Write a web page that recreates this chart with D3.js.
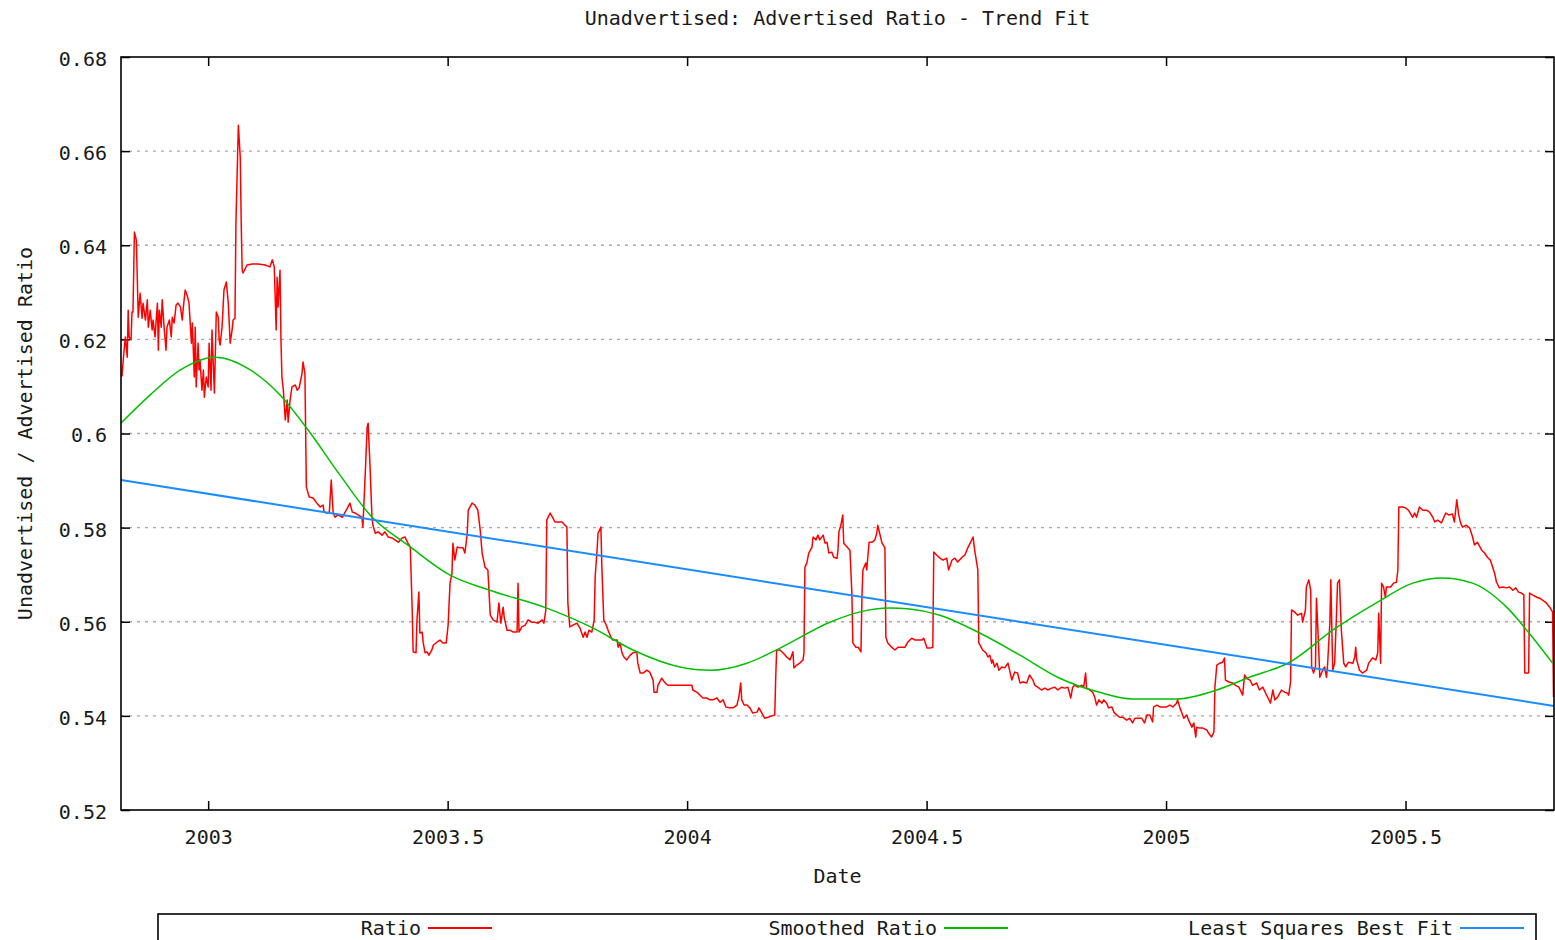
<!DOCTYPE html>
<html>
<head>
<meta charset="utf-8">
<script src="https://cdn.jsdelivr.net/npm/d3@7"></script>
<style>
    body { margin: 0; background: #fff; }
    svg text { font-family: "DejaVu Sans Mono", "Liberation Mono", monospace; fill: #1a1a1a; }
</style>
</head>
<body>
<svg id="trend-svg"></svg>
<script>
// values: [decimal year, ratio]
const ratio_points = [
    [2002.820,0.6121],[2002.823,0.6160],[2002.827,0.6205],[2002.831,0.6162],[2002.833,0.6262],[2002.835,0.6205],
    [2002.839,0.6199],[2002.841,0.6258],[2002.843,0.6258],[2002.846,0.6428],[2002.850,0.6411],[2002.852,0.6330],
    [2002.854,0.6247],[2002.858,0.6298],[2002.862,0.6245],[2002.864,0.6277],[2002.869,0.6241],[2002.873,0.6284],
    [2002.875,0.6226],[2002.879,0.6262],[2002.883,0.6220],[2002.885,0.6241],[2002.889,0.6205],[2002.894,0.6277],
    [2002.896,0.6177],[2002.898,0.6262],[2002.902,0.6226],[2002.904,0.6284],[2002.908,0.6226],[2002.912,0.6177],
    [2002.914,0.6226],[2002.919,0.6241],[2002.923,0.6205],[2002.925,0.6247],[2002.929,0.6235],[2002.933,0.6273],
    [2002.937,0.6277],[2002.942,0.6269],[2002.946,0.6241],[2002.948,0.6267],[2002.952,0.6305],[2002.956,0.6294],
    [2002.960,0.6277],[2002.965,0.6192],[2002.967,0.6235],[2002.971,0.6120],[2002.973,0.6226],[2002.975,0.6099],
    [2002.979,0.6192],[2002.981,0.6135],[2002.983,0.6156],[2002.987,0.6092],[2002.990,0.6135],[2002.992,0.6077],
    [2002.996,0.6120],[2003.000,0.6099],[2003.002,0.6192],[2003.006,0.6092],[2003.008,0.6220],[2003.013,0.6086],
    [2003.017,0.6258],[2003.021,0.6247],[2003.023,0.6199],[2003.025,0.6188],[2003.029,0.6226],[2003.033,0.6305],
    [2003.038,0.6322],[2003.042,0.6277],[2003.046,0.6192],[2003.050,0.6220],[2003.052,0.6241],[2003.056,0.6245],
    [2003.058,0.6447],[2003.063,0.6655],[2003.067,0.6587],[2003.069,0.6447],[2003.071,0.6347],[2003.073,0.6341],
    [2003.081,0.6358],[2003.092,0.6360],[2003.104,0.6360],[2003.119,0.6358],[2003.129,0.6354],[2003.134,0.6369],
    [2003.138,0.6354],[2003.142,0.6220],[2003.144,0.6332],[2003.146,0.6269],[2003.150,0.6347],[2003.152,0.6199],
    [2003.154,0.6120],[2003.157,0.6092],[2003.161,0.6029],[2003.165,0.6071],[2003.167,0.6024],[2003.171,0.6071],
    [2003.175,0.6099],[2003.182,0.6103],[2003.186,0.6092],[2003.190,0.6097],[2003.196,0.6128],[2003.198,0.6152],
    [2003.202,0.6128],[2003.205,0.5886],[2003.211,0.5865],[2003.219,0.5863],[2003.227,0.5852],[2003.234,0.5844],
    [2003.240,0.5848],[2003.242,0.5833],[2003.248,0.5831],[2003.253,0.5833],[2003.257,0.5901],[2003.261,0.5831],
    [2003.265,0.5822],[2003.271,0.5827],[2003.280,0.5822],[2003.286,0.5833],[2003.292,0.5844],[2003.296,0.5852],
    [2003.301,0.5833],[2003.307,0.5831],[2003.313,0.5827],[2003.321,0.5822],[2003.323,0.5801],[2003.328,0.5916],
    [2003.332,0.6014],[2003.334,0.6022],[2003.338,0.5929],[2003.342,0.5822],[2003.344,0.5805],[2003.349,0.5788],
    [2003.355,0.5791],[2003.363,0.5784],[2003.369,0.5791],[2003.376,0.5780],[2003.384,0.5778],[2003.390,0.5774],
    [2003.397,0.5769],[2003.405,0.5778],[2003.411,0.5780],[2003.417,0.5767],[2003.422,0.5759],[2003.426,0.5625],
    [2003.428,0.5536],[2003.434,0.5534],[2003.436,0.5604],[2003.440,0.5663],[2003.442,0.5576],[2003.447,0.5578],
    [2003.449,0.5555],[2003.453,0.5534],[2003.457,0.5536],[2003.461,0.5529],[2003.467,0.5540],[2003.470,0.5550],
    [2003.478,0.5557],[2003.484,0.5561],[2003.490,0.5555],[2003.497,0.5555],[2003.501,0.5593],[2003.505,0.5682],
    [2003.509,0.5703],[2003.511,0.5767],[2003.515,0.5731],[2003.520,0.5759],[2003.526,0.5757],[2003.532,0.5757],
    [2003.536,0.5746],[2003.541,0.5788],[2003.543,0.5837],[2003.551,0.5852],[2003.557,0.5848],[2003.563,0.5837],
    [2003.568,0.5795],[2003.572,0.5746],[2003.578,0.5716],[2003.584,0.5710],[2003.589,0.5614],[2003.595,0.5604],
    [2003.603,0.5599],[2003.607,0.5640],[2003.611,0.5597],[2003.616,0.5631],[2003.618,0.5610],[2003.624,0.5582],
    [2003.630,0.5582],[2003.637,0.5578],[2003.645,0.5578],[2003.647,0.5682],[2003.649,0.5578],[2003.655,0.5589],
    [2003.662,0.5593],[2003.668,0.5604],[2003.676,0.5599],[2003.682,0.5599],[2003.689,0.5597],[2003.697,0.5604],
    [2003.701,0.5597],[2003.705,0.5625],[2003.707,0.5816],[2003.714,0.5831],[2003.720,0.5820],[2003.724,0.5812],
    [2003.730,0.5812],[2003.739,0.5812],[2003.745,0.5805],[2003.749,0.5801],[2003.751,0.5640],[2003.755,0.5589],
    [2003.762,0.5593],[2003.770,0.5597],[2003.776,0.5587],[2003.783,0.5567],[2003.787,0.5578],[2003.791,0.5567],
    [2003.795,0.5582],[2003.801,0.5578],[2003.806,0.5604],[2003.808,0.5695],[2003.812,0.5752],[2003.814,0.5788],
    [2003.820,0.5801],[2003.822,0.5716],[2003.826,0.5604],[2003.831,0.5593],[2003.835,0.5582],[2003.841,0.5567],
    [2003.845,0.5561],[2003.854,0.5561],[2003.856,0.5546],[2003.860,0.5555],[2003.864,0.5534],[2003.868,0.5525],
    [2003.874,0.5519],[2003.881,0.5529],[2003.887,0.5534],[2003.895,0.5536],[2003.897,0.5512],[2003.902,0.5491],
    [2003.908,0.5491],[2003.916,0.5497],[2003.922,0.5493],[2003.929,0.5476],[2003.931,0.5450],[2003.937,0.5450],
    [2003.939,0.5465],[2003.947,0.5480],[2003.954,0.5470],[2003.960,0.5465],[2003.970,0.5465],[2003.981,0.5465],
    [2003.991,0.5465],[2004.002,0.5465],[2004.010,0.5465],[2004.012,0.5455],[2004.021,0.5450],[2004.027,0.5444],
    [2004.033,0.5438],[2004.041,0.5438],[2004.048,0.5434],[2004.054,0.5434],[2004.062,0.5438],[2004.069,0.5429],
    [2004.075,0.5434],[2004.081,0.5419],[2004.089,0.5417],[2004.096,0.5417],[2004.104,0.5423],[2004.108,0.5440],
    [2004.112,0.5470],[2004.114,0.5434],[2004.119,0.5423],[2004.125,0.5423],[2004.131,0.5417],[2004.137,0.5406],
    [2004.146,0.5408],[2004.150,0.5417],[2004.156,0.5406],[2004.162,0.5395],[2004.169,0.5397],[2004.177,0.5400],
    [2004.183,0.5402],[2004.185,0.5482],[2004.187,0.5540],[2004.194,0.5540],[2004.200,0.5534],[2004.208,0.5525],
    [2004.215,0.5519],[2004.221,0.5536],[2004.223,0.5502],[2004.229,0.5508],[2004.235,0.5512],[2004.242,0.5519],
    [2004.244,0.5534],[2004.246,0.5716],[2004.250,0.5725],[2004.254,0.5746],[2004.261,0.5759],[2004.263,0.5780],
    [2004.269,0.5774],[2004.273,0.5784],[2004.277,0.5774],[2004.284,0.5784],[2004.288,0.5767],[2004.292,0.5769],
    [2004.296,0.5746],[2004.302,0.5748],[2004.306,0.5737],[2004.313,0.5735],[2004.315,0.5752],[2004.317,0.5791],
    [2004.321,0.5805],[2004.325,0.5827],[2004.327,0.5767],[2004.334,0.5759],[2004.340,0.5752],[2004.344,0.5661],
    [2004.346,0.5555],[2004.352,0.5546],[2004.357,0.5546],[2004.363,0.5536],[2004.365,0.5652],[2004.367,0.5710],
    [2004.373,0.5725],[2004.375,0.5710],[2004.380,0.5769],[2004.386,0.5769],[2004.392,0.5774],[2004.396,0.5788],
    [2004.398,0.5805],[2004.402,0.5788],[2004.407,0.5767],[2004.413,0.5757],[2004.415,0.5567],[2004.419,0.5555],
    [2004.427,0.5546],[2004.434,0.5540],[2004.440,0.5546],[2004.448,0.5546],[2004.455,0.5546],[2004.461,0.5557],
    [2004.469,0.5565],[2004.476,0.5561],[2004.482,0.5561],[2004.490,0.5561],[2004.494,0.5565],[2004.501,0.5544],
    [2004.507,0.5544],[2004.513,0.5546],[2004.515,0.5748],[2004.521,0.5742],[2004.528,0.5735],[2004.534,0.5731],
    [2004.542,0.5735],[2004.546,0.5710],[2004.553,0.5731],[2004.559,0.5735],[2004.565,0.5727],[2004.574,0.5737],
    [2004.580,0.5742],[2004.586,0.5757],[2004.592,0.5769],[2004.597,0.5780],[2004.601,0.5748],[2004.607,0.5710],
    [2004.609,0.5555],[2004.615,0.5544],[2004.617,0.5540],[2004.624,0.5534],[2004.628,0.5525],[2004.632,0.5529],
    [2004.636,0.5512],[2004.638,0.5519],[2004.642,0.5504],[2004.647,0.5512],[2004.651,0.5497],[2004.657,0.5504],
    [2004.663,0.5502],[2004.670,0.5512],[2004.678,0.5476],[2004.684,0.5493],[2004.690,0.5491],[2004.695,0.5470],
    [2004.701,0.5472],[2004.709,0.5470],[2004.715,0.5487],[2004.722,0.5476],[2004.726,0.5465],[2004.732,0.5461],
    [2004.740,0.5455],[2004.747,0.5459],[2004.753,0.5455],[2004.761,0.5459],[2004.768,0.5461],[2004.774,0.5455],
    [2004.782,0.5461],[2004.788,0.5459],[2004.795,0.5461],[2004.801,0.5438],[2004.805,0.5461],[2004.809,0.5465],
    [2004.816,0.5461],[2004.824,0.5465],[2004.828,0.5461],[2004.832,0.5491],[2004.834,0.5459],[2004.841,0.5455],
    [2004.847,0.5450],[2004.851,0.5440],[2004.855,0.5423],[2004.860,0.5434],[2004.866,0.5427],[2004.870,0.5434],
    [2004.876,0.5427],[2004.880,0.5417],[2004.887,0.5419],[2004.891,0.5408],[2004.897,0.5402],[2004.903,0.5397],
    [2004.910,0.5397],[2004.918,0.5391],[2004.924,0.5395],[2004.930,0.5385],[2004.935,0.5395],[2004.941,0.5395],
    [2004.949,0.5395],[2004.955,0.5385],[2004.960,0.5402],[2004.966,0.5402],[2004.972,0.5387],[2004.974,0.5419],
    [2004.981,0.5423],[2004.987,0.5419],[2004.993,0.5419],[2005.001,0.5419],[2005.008,0.5423],[2005.014,0.5419],
    [2005.022,0.5427],[2005.024,0.5434],[2005.029,0.5417],[2005.033,0.5406],[2005.037,0.5395],[2005.043,0.5402],
    [2005.047,0.5391],[2005.054,0.5376],[2005.058,0.5385],[2005.062,0.5355],[2005.064,0.5376],[2005.070,0.5374],
    [2005.077,0.5374],[2005.085,0.5370],[2005.089,0.5363],[2005.095,0.5355],[2005.100,0.5366],[2005.102,0.5461],
    [2005.106,0.5508],[2005.112,0.5512],[2005.118,0.5514],[2005.122,0.5523],[2005.124,0.5476],[2005.131,0.5472],
    [2005.139,0.5470],[2005.145,0.5465],[2005.152,0.5461],[2005.160,0.5444],[2005.164,0.5487],[2005.168,0.5480],
    [2005.175,0.5476],[2005.181,0.5465],[2005.189,0.5470],[2005.195,0.5455],[2005.202,0.5461],[2005.208,0.5448],
    [2005.212,0.5440],[2005.218,0.5427],[2005.223,0.5455],[2005.227,0.5434],[2005.233,0.5440],[2005.241,0.5455],
    [2005.248,0.5450],[2005.254,0.5448],[2005.256,0.5444],[2005.260,0.5472],[2005.262,0.5625],[2005.268,0.5621],
    [2005.275,0.5614],[2005.283,0.5618],[2005.285,0.5599],[2005.291,0.5625],[2005.293,0.5674],[2005.298,0.5689],
    [2005.302,0.5667],[2005.304,0.5504],[2005.308,0.5491],[2005.312,0.5504],[2005.314,0.5650],[2005.318,0.5561],
    [2005.321,0.5482],[2005.327,0.5497],[2005.331,0.5504],[2005.335,0.5482],[2005.337,0.5504],[2005.342,0.5597],
    [2005.344,0.5689],[2005.348,0.5497],[2005.352,0.5512],[2005.356,0.5618],[2005.358,0.5682],[2005.362,0.5689],
    [2005.366,0.5582],[2005.371,0.5512],[2005.375,0.5504],[2005.381,0.5514],[2005.390,0.5512],[2005.394,0.5525],
    [2005.396,0.5546],[2005.398,0.5519],[2005.404,0.5497],[2005.410,0.5491],[2005.419,0.5497],[2005.423,0.5512],
    [2005.431,0.5523],[2005.438,0.5519],[2005.442,0.5534],[2005.444,0.5618],[2005.448,0.5512],[2005.450,0.5682],
    [2005.454,0.5674],[2005.458,0.5652],[2005.460,0.5674],[2005.469,0.5674],[2005.475,0.5682],[2005.481,0.5684],
    [2005.484,0.5710],[2005.486,0.5844],[2005.494,0.5844],[2005.500,0.5842],[2005.506,0.5837],[2005.515,0.5822],
    [2005.519,0.5831],[2005.523,0.5822],[2005.529,0.5844],[2005.536,0.5837],[2005.544,0.5837],[2005.550,0.5833],
    [2005.557,0.5822],[2005.561,0.5812],[2005.567,0.5816],[2005.575,0.5810],[2005.580,0.5822],[2005.584,0.5831],
    [2005.590,0.5827],[2005.598,0.5829],[2005.602,0.5812],[2005.607,0.5859],[2005.611,0.5827],[2005.615,0.5810],
    [2005.619,0.5801],[2005.627,0.5805],[2005.634,0.5799],[2005.640,0.5780],[2005.644,0.5763],[2005.650,0.5769],
    [2005.659,0.5752],[2005.665,0.5746],[2005.671,0.5737],[2005.677,0.5731],[2005.682,0.5716],[2005.686,0.5703],
    [2005.690,0.5684],[2005.696,0.5672],[2005.703,0.5674],[2005.711,0.5672],[2005.717,0.5674],[2005.724,0.5667],
    [2005.730,0.5672],[2005.736,0.5663],[2005.742,0.5661],[2005.747,0.5657],[2005.749,0.5491],[2005.753,0.5491],
    [2005.757,0.5491],[2005.759,0.5661],[2005.765,0.5657],[2005.774,0.5652],[2005.780,0.5650],[2005.786,0.5646],
    [2005.794,0.5640],[2005.801,0.5631],[2005.807,0.5621],[2005.809,0.5440]
];

const smooth_points = [
    [2002.818,0.6022],[2002.879,0.6082],[2002.942,0.6135],[2003.015,0.6162],[2003.088,0.6135],[2003.150,0.6082],
    [2003.209,0.6007],[2003.275,0.5912],[2003.338,0.5827],[2003.422,0.5759],[2003.505,0.5699],[2003.588,0.5667],
    [2003.707,0.5629],[2003.803,0.5587],[2003.887,0.5540],[2003.985,0.5504],[2004.048,0.5497],[2004.125,0.5512],
    [2004.194,0.5544],[2004.298,0.5599],[2004.361,0.5621],[2004.423,0.5629],[2004.465,0.5627],[2004.528,0.5614],
    [2004.611,0.5576],[2004.695,0.5529],[2004.778,0.5480],[2004.861,0.5450],[2004.930,0.5436],[2005.022,0.5436],
    [2005.106,0.5455],[2005.174,0.5482],[2005.258,0.5514],[2005.348,0.5582],[2005.439,0.5640],[2005.515,0.5682],
    [2005.577,0.5693],[2005.640,0.5682],[2005.711,0.5631],[2005.765,0.5567],[2005.807,0.5512]
];

const fit_points = [[2002.818,0.5901],[2005.810,0.5421]];

const x_ticks = [2003, 2003.5, 2004, 2004.5, 2005, 2005.5];
const y_ticks = [0.52, 0.54, 0.56, 0.58, 0.6, 0.62, 0.64, 0.66, 0.68];
const x_domain = [2002.818, 2005.810];
const y_domain = [0.52, 0.68];

const series = [
    {name: "Ratio", points: ratio_points, color: "#ff0000", width: 1.5, curve: d3.curveLinear},
    {name: "Smoothed Ratio", points: smooth_points, color: "#00c000", width: 1.5, curve: d3.curveMonotoneX},
    {name: "Least Squares Best Fit", points: fit_points, color: "#1a8cff", width: 2, curve: d3.curveLinear}
];

const svg_width = 1555, svg_height = 940;
const margin = {left: 121, top: 57, right: 1, bottom: 130};
const plot_w = svg_width - margin.left - margin.right;
const plot_h = svg_height - margin.top - margin.bottom;

const svg = d3.select("#trend-svg")
    .attr("width", svg_width)
    .attr("height", svg_height);

const x = d3.scaleLinear().domain(x_domain).range([0, plot_w]);
const y = d3.scaleLinear().domain(y_domain).range([plot_h, 0]);

const g = svg.append("g").attr("transform", `translate(${margin.left},${margin.top})`);

svg.append("defs").append("clipPath").attr("id", "plot-clip")
    .append("rect").attr("width", plot_w).attr("height", plot_h);

// dotted grid, interior ticks only
g.append("g").selectAll("line")
    .data(y_ticks.slice(1, -1))
    .enter().append("line")
    .attr("x1", 0).attr("x2", plot_w)
    .attr("y1", d => y(d)).attr("y2", d => y(d))
    .attr("stroke", "#a8a8a8")
    .attr("stroke-width", 1.3)
    .attr("stroke-dasharray", "3,5");

// axes with inward ticks on all four sides
const tick_len = 9;
g.append("g").attr("transform", `translate(0,${plot_h})`)
    .call(d3.axisBottom(x).tickValues(x_ticks).tickSizeInner(-tick_len).tickSizeOuter(0).tickPadding(20).tickFormat(d3.format("")))
    .call(a => a.select(".domain").remove());
g.append("g")
    .call(d3.axisTop(x).tickValues(x_ticks).tickSizeInner(-tick_len).tickSizeOuter(0).tickFormat(""))
    .call(a => a.select(".domain").remove());
g.append("g")
    .call(d3.axisLeft(y).tickValues(y_ticks).tickSizeInner(-tick_len).tickSizeOuter(0).tickPadding(14).tickFormat(d3.format("")))
    .call(a => a.select(".domain").remove())
    .call(a => a.selectAll(".tick text").attr("dy", "0.42em"));
g.append("g").attr("transform", `translate(${plot_w},0)`)
    .call(d3.axisRight(y).tickValues(y_ticks).tickSizeInner(-tick_len).tickSizeOuter(0).tickFormat(""))
    .call(a => a.select(".domain").remove());

g.selectAll(".tick line").attr("stroke", "#000").attr("stroke-width", 1.5);
g.selectAll(".tick text").attr("font-size", 20).attr("font-family", "DejaVu Sans Mono").attr("fill", "#1a1a1a");

// data lines
const lines_g = g.append("g").attr("clip-path", "url(#plot-clip)");
series.forEach(s => {
    let line = d3.line().x(d => x(d[0])).y(d => y(d[1])).curve(s.curve);
    lines_g.append("path")
        .datum(s.points)
        .attr("fill", "none")
        .attr("stroke", s.color)
        .attr("stroke-width", s.width)
        .attr("stroke-linejoin", "round")
        .attr("d", line);
});

g.append("rect")
    .attr("width", plot_w).attr("height", plot_h)
    .attr("fill", "none").attr("stroke", "#000").attr("stroke-width", 1.6);

// titles
svg.append("text")
    .attr("x", margin.left + plot_w / 2).attr("y", 25)
    .attr("text-anchor", "middle").attr("font-size", 20)
    .text("Unadvertised: Advertised Ratio - Trend Fit");
svg.append("text")
    .attr("x", margin.left + plot_w / 2).attr("y", 883)
    .attr("text-anchor", "middle").attr("font-size", 20)
    .text("Date");
svg.append("text")
    .attr("transform", `translate(32,${margin.top + plot_h / 2}) rotate(-90)`)
    .attr("text-anchor", "middle").attr("font-size", 20)
    .text("Unadvertised / Advertised Ratio");

// legend
const legend_g = svg.append("g");
legend_g.append("rect")
    .attr("x", 158).attr("y", 914).attr("width", 1378).attr("height", 40)
    .attr("fill", "none").attr("stroke", "#000").attr("stroke-width", 1.6);
const legend_ends = [421, 937, 1453];
series.forEach((s, i) => {
    legend_g.append("text")
        .attr("x", legend_ends[i]).attr("y", 935)
        .attr("text-anchor", "end").attr("font-size", 20)
        .text(s.name);
    legend_g.append("line")
        .attr("x1", legend_ends[i] + 7).attr("x2", legend_ends[i] + 71)
        .attr("y1", 928).attr("y2", 928)
        .attr("stroke", s.color).attr("stroke-width", 2);
});
</script>
</body>
</html>
